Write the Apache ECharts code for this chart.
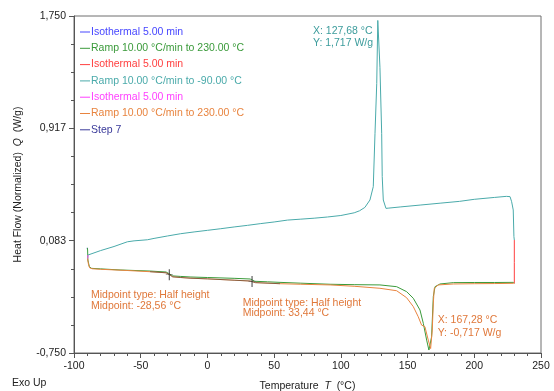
<!DOCTYPE html>
<html>
<head>
<meta charset="utf-8">
<script src="https://cdn.jsdelivr.net/npm/echarts@6/dist/echarts.min.js"></script>
<style>
html,body{margin:0;padding:0;background:#fff;}
#c{width:554px;height:391px;}
</style>
</head>
<body>
<div id="c"></div>
<script>
// ---- data ----
const legendLabels = ['Isothermal 5.00 min', 'Ramp 10.00 °C/min to 230.00 °C', 'Isothermal 5.00 min',
  'Ramp 10.00 °C/min to -90.00 °C', 'Isothermal 5.00 min', 'Ramp 10.00 °C/min to 230.00 °C', 'Step 7'];
const seriesColors = ['#4646ff', '#3a9a3a', '#ff4040', '#4aaaaa', '#ff40ff', '#e8843f', '#3a3a9a'];
const xTicks = [-100, -50, 0, 50, 100, 150, 200, 250];
const yTickLabels = ['-0,750', '0,083', '0,917', '1,750'];
const yMin = -0.75, yMax = 1.75;

// 1: Isothermal 5 min (start)
const blueT = [-90, -90];
const blueQ = [0.02, 0.03];
// 2: Ramp to 230 (first heating)
const greenT = [-90, -89.8, -89.6, -88.5, -86.8, -80, -65.5, -43, -31, -29, -26, -20, -13, 0, 20, 32, 35.6, 45, 54.4, 70,
  91.9, 110, 129.3, 141.8, 149.3, 154.3, 159.3, 161.8, 164.3, 166, 166.5, 168, 169.3, 170.6, 174.3, 184.3, 200, 215, 229.3, 230];
const greenQ = [0.03, 0.014, -0.06, -0.11, -0.122, -0.126, -0.134, -0.142, -0.149, -0.16, -0.178, -0.182, -0.186, -0.19, -0.196, -0.201, -0.218, -0.222, -0.226, -0.232,
  -0.24, -0.243, -0.245, -0.258, -0.295, -0.344, -0.431, -0.53, -0.654, -0.728, -0.728, -0.63, -0.33, -0.258, -0.238, -0.228, -0.227, -0.227, -0.226, -0.233];
// 3: Isothermal at 230
const redT = [230, 230, 230];
const redQ = [-0.233, -0.08, 0.088];
// 4: Ramp to -90 (cooling)
const tealT = [230, 229.7, 229.2, 228, 226.8, 224, 215, 200, 189, 175, 160, 145, 136, 133.8, 133, 131.8, 131, 130.6, 129.3, 127.68,
  126.9, 125.6, 124.3, 121.8, 118, 114, 110, 100, 90, 80, 70, 60, 50, 40, 30, 20, 10, 0, -10, -20, -30, -40, -45, -55, -60, -70, -80, -89.5];
const tealQ = [0.088, 0.113, 0.311, 0.372, 0.41, 0.412, 0.404, 0.39, 0.375, 0.362, 0.348, 0.334, 0.325, 0.323, 0.335, 0.385, 0.558, 0.88, 1.37, 1.717,
  1.25, 0.88, 0.484, 0.385, 0.33, 0.305, 0.29, 0.27, 0.259, 0.25, 0.243, 0.236, 0.222, 0.21, 0.197, 0.185, 0.172, 0.16, 0.148, 0.135, 0.118, 0.1, 0.09, 0.082, 0.075, 0.04, 0.01, -0.023];
// 5: Isothermal at -90
const magentaT = [-89.5, -89.6, -89.8];
const magentaQ = [-0.023, -0.04, -0.05];
// 6: Ramp to 230 (second heating)
const orangeT = [-89.8, -89.2, -88.3, -86.5, -80, -60, -43, -31, -28.56, -26, -20, -13, 0, 20, 32, 33.44, 36, 54.4, 70, 91.9,
  110, 129.3, 141.8, 149.3, 154.3, 158, 160.5, 163, 165.5, 167.28, 168.5, 169.3, 170, 173, 184.3, 200, 215, 229.3, 230];
const orangeQ = [-0.05, -0.09, -0.118, -0.125, -0.129, -0.138, -0.147, -0.155, -0.168, -0.185, -0.19, -0.195, -0.2, -0.21, -0.216, -0.222, -0.228, -0.236, -0.24, -0.245,
  -0.255, -0.27, -0.288, -0.34, -0.406, -0.481, -0.543, -0.555, -0.654, -0.717, -0.58, -0.38, -0.27, -0.245, -0.238, -0.236, -0.235, -0.233, -0.233];
// 7: Step 7
const stepT = [230, 230];
const stepQ = [-0.233, -0.233];
// glass transition midpoints and analysed range
const midT = [-28.56, 33.44];
const midQ = [-0.17, -0.22];
const analysedRange = [-45, 60];

const segT = [blueT, greenT, redT, tealT, magentaT, orangeT, stepT];
const segQ = [blueQ, greenQ, redQ, tealQ, magentaQ, orangeQ, stepQ];

const FONT = '"Liberation Sans", Arial, sans-serif';
const zip = (a, b) => a.map((v, i) => [v, b[i]]);

const series = segT.map((t, i) => ({
  name: 's' + i,
  type: 'line',
  data: zip(t, segQ[i]),
  xAxisIndex: 0,
  yAxisIndex: 0,
  showSymbol: false,
  symbol: 'none',
  color: seriesColors[i],
  lineStyle: { width: 1, color: seriesColors[i] },
  itemStyle: { color: seriesColors[i] },
  silent: true,
  z: 2 + i
}));
// darker overlay of the analysed part of the second heating
series.push({
  name: 'analysed',
  type: 'line',
  data: zip(orangeT, orangeQ).filter(p => p[0] >= analysedRange[0] && p[0] <= analysedRange[1]),
  showSymbol: false,
  symbol: 'none',
  lineStyle: { width: 1, color: '#3a3a3a', opacity: 0.55 },
  silent: true,
  z: 15
});
series.push({
  name: 'mid',
  type: 'scatter',
  data: zip(midT, midQ),
  symbol: 'path://M4.5,0h1v20h-1z M2,9.5h6v1h-6z',
  symbolSize: [7, 11],
  itemStyle: { color: '#333' },
  silent: true,
  z: 20
});

const chart = echarts.init(document.getElementById('c'), null, { renderer: 'canvas' });
const axisGray = '#555';
const option = {
  animation: false,
  textStyle: { fontFamily: FONT },
  grid: { left: 74, right: 13, top: 16, bottom: 38, show: true, borderColor: '#6e6e6e', borderWidth: 1, outerBoundsMode: 'none' },
  xAxis: {
    type: 'value', min: xTicks[0], max: xTicks[xTicks.length - 1], interval: 50,
    axisLine: { onZero: false, lineStyle: { color: axisGray } },
    axisTick: { length: 5, lineStyle: { color: axisGray } },
    minorTick: { show: true, splitNumber: 5, length: 3, lineStyle: { color: axisGray } },
    splitLine: { show: false },
    axisLabel: { color: '#222', fontSize: 10.5, margin: 8, fontFamily: FONT },
    name: 'Temperature  {i|T}  (°C)', nameLocation: 'middle', nameGap: 28,
    nameTextStyle: { color: '#222', fontSize: 10.5, fontFamily: FONT, rich: { i: { fontStyle: 'italic', fontSize: 10.5, color: '#222', fontFamily: FONT } } }
  },
  yAxis: [
    { type: 'value', min: yMin, max: yMax, show: false },
    {
      type: 'value', min: 0, max: yTickLabels.length - 1, interval: 1, position: 'left',
      axisLine: { show: true, onZero: false, lineStyle: { color: axisGray } },
      axisTick: { show: true, length: 5, lineStyle: { color: axisGray } },
      minorTick: { show: true, splitNumber: 4, length: 3, lineStyle: { color: axisGray } },
      splitLine: { show: false },
      axisLabel: { color: '#222', fontSize: 10.5, margin: 8, fontFamily: FONT, formatter: v => yTickLabels[Math.round(v)] },
      name: 'Heat Flow (Normalized)  {i|Q}  (W/g)', nameLocation: 'middle', nameGap: 50,
      nameTextStyle: { color: '#222', fontSize: 10.5, fontFamily: FONT, rich: { i: { fontStyle: 'italic', fontSize: 10.5, color: '#222', fontFamily: FONT } } }
    }
  ],
  legend: {
    orient: 'vertical', left: 75, top: 20, icon: 'rect', itemWidth: 10, itemHeight: 1, itemGap: 2.3,
    selectedMode: false,
    data: legendLabels.map((l, i) => ({ name: 's' + i, textStyle: { color: seriesColors[i] } })),
    formatter: name => legendLabels[+name.slice(1)],
    textStyle: { fontSize: 10.5, lineHeight: 14, fontFamily: FONT, padding: [0, 0, 0, -4] }
  },
  graphic: [
    { type: 'text', x: 313, y: 31, style: { text: 'X: 127,68 °C', fill: '#3c9c9c', font: '10.5px ' + FONT, verticalAlign: 'middle' } },
    { type: 'text', x: 313, y: 43.3, style: { text: 'Y: 1,717 W/g', fill: '#3c9c9c', font: '10.5px ' + FONT, verticalAlign: 'middle' } },
    { type: 'text', x: 91, y: 295, style: { text: 'Midpoint type: Half height', fill: '#e0783a', font: '10.5px ' + FONT, verticalAlign: 'middle' } },
    { type: 'text', x: 91, y: 306.5, style: { text: 'Midpoint: -28,56 °C', fill: '#e0783a', font: '10.5px ' + FONT, verticalAlign: 'middle' } },
    { type: 'text', x: 242.7, y: 302.7, style: { text: 'Midpoint type: Half height', fill: '#e0783a', font: '10.5px ' + FONT, verticalAlign: 'middle' } },
    { type: 'text', x: 242.7, y: 313.5, style: { text: 'Midpoint: 33,44 °C', fill: '#e0783a', font: '10.5px ' + FONT, verticalAlign: 'middle' } },
    { type: 'text', x: 437.7, y: 320, style: { text: 'X: 167,28 °C', fill: '#e0783a', font: '10.5px ' + FONT, verticalAlign: 'middle' } },
    { type: 'text', x: 437.7, y: 332.7, style: { text: 'Y: -0,717 W/g', fill: '#e0783a', font: '10.5px ' + FONT, verticalAlign: 'middle' } },
    { type: 'text', x: 12, y: 383, style: { text: 'Exo Up', fill: '#222', font: '10.5px ' + FONT, verticalAlign: 'middle' } }
  ],
  series: series
};
chart.setOption(option);
</script>
</body>
</html>
